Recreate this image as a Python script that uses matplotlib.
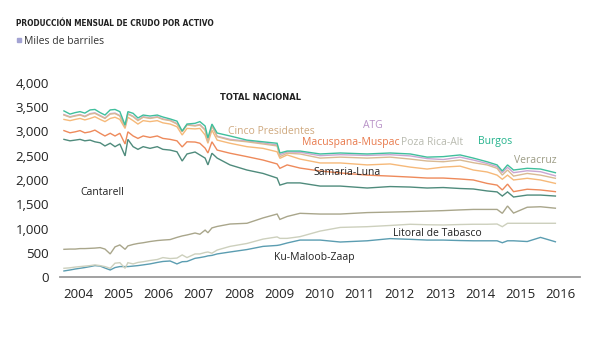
import matplotlib
matplotlib.use("Agg")
import matplotlib.pyplot as plt
from matplotlib.patches import Rectangle
from matplotlib import font_manager

# Decimal-year dates of the sampled months
dates = [2003.65, 2003.80, 2003.93, 2004.05, 2004.17, 2004.30, 2004.42, 2004.55, 2004.67, 2004.80,
         2004.92, 2005.04, 2005.17, 2005.24, 2005.37, 2005.49, 2005.62, 2005.79, 2005.97, 2006.11,
         2006.29, 2006.46, 2006.59, 2006.71, 2006.91, 2007.03, 2007.16, 2007.23, 2007.33, 2007.46,
         2007.78, 2008.20, 2008.60, 2008.95, 2009.02, 2009.20, 2009.52, 2010.02, 2010.52, 2011.19,
         2011.76, 2012.26, 2012.68, 2013.08, 2013.50, 2013.83, 2014.17, 2014.42, 2014.55, 2014.68,
         2014.83, 2015.17, 2015.50, 2015.87]

# Cumulative (stacked) production levels, miles de barriles
ku_maloob_zaap = [130, 150, 170, 185, 200, 220, 240, 230, 190, 150, 200, 220, 220, 220, 230, 240, 255, 275, 305, 325,
                  335, 275, 320, 325, 390, 405, 425, 440, 450, 480, 520, 570, 635, 655, 665, 705, 765, 765, 725, 750,
                  795, 780, 765, 765, 755, 750, 750, 750, 710, 750, 750, 735, 820, 730]
litoral_tabasco = [185, 195, 210, 220, 230, 240, 255, 240, 220, 185, 290, 300, 185, 300, 275, 305, 320, 345, 365, 405,
                   385, 395, 460, 405, 480, 480, 510, 520, 495, 560, 635, 695, 785, 830, 800, 800, 835, 950, 1025, 1040,
                   1065, 1090, 1080, 1075, 1085, 1090, 1090, 1095, 1040, 1110, 1110, 1110, 1110, 1110]
abkatun = [575, 580, 580, 590, 590, 595, 600, 610, 580, 480, 625, 665, 575, 645, 675, 695, 710, 735, 755, 765,
           775, 820, 850, 870, 910, 885, 970, 915, 1015, 1045, 1095, 1110, 1220, 1300, 1190, 1250, 1315, 1300, 1300, 1330,
           1340, 1350, 1360, 1370, 1385, 1395, 1395, 1395, 1315, 1465, 1320, 1440, 1450, 1420]
cantarell = [2835, 2805, 2820, 2835, 2805, 2820, 2785, 2765, 2700, 2755, 2685, 2740, 2495, 2835, 2685, 2630, 2685, 2650, 2685, 2630,
             2615, 2580, 2390, 2535, 2575, 2515, 2450, 2310, 2550, 2450, 2310, 2205, 2135, 2040, 1895, 1940, 1940, 1875, 1875, 1835,
             1865, 1855, 1835, 1845, 1825, 1815, 1775, 1755, 1670, 1755, 1650, 1690, 1690, 1670]
samaria_luna = [3015, 2970, 2990, 3015, 2970, 2990, 3025, 2960, 2905, 2960, 2905, 2960, 2740, 2990, 2905, 2855, 2905, 2875, 2905, 2855,
                2835, 2805, 2680, 2785, 2780, 2755, 2655, 2555, 2785, 2615, 2550, 2480, 2410, 2330, 2240, 2310, 2245, 2185, 2145, 2100,
                2080, 2060, 2040, 2040, 2020, 2000, 1930, 1895, 1795, 1915, 1760, 1810, 1795, 1760]
macuspana = [3245, 3220, 3245, 3265, 3235, 3265, 3300, 3245, 3200, 3265, 3290, 3245, 3060, 3290, 3220, 3150, 3220, 3200, 3220, 3175,
             3150, 3095, 2925, 3060, 3050, 3060, 2925, 2755, 3025, 2820, 2755, 2685, 2650, 2580, 2445, 2515, 2430, 2350, 2350, 2310,
             2330, 2265, 2225, 2265, 2285, 2205, 2165, 2100, 2015, 2100, 2000, 2035, 2000, 1930]
cinco_presidentes = [3335, 3290, 3315, 3335, 3300, 3355, 3370, 3315, 3265, 3355, 3365, 3315, 3095, 3355, 3300, 3220, 3290, 3265, 3290, 3245,
                     3220, 3150, 2990, 3130, 3110, 3130, 3025, 2785, 3110, 2890, 2820, 2785, 2740, 2700, 2480, 2550, 2535, 2450, 2470, 2450,
                     2470, 2430, 2390, 2375, 2410, 2355, 2310, 2240, 2100, 2205, 2080, 2135, 2100, 2035]
atg = [3345, 3300, 3325, 3345, 3310, 3365, 3380, 3325, 3275, 3365, 3375, 3325, 3105, 3365, 3310, 3230, 3300, 3275, 3300, 3255,
       3230, 3160, 3000, 3140, 3120, 3140, 3035, 2795, 3120, 2900, 2835, 2800, 2760, 2720, 2520, 2575, 2570, 2500, 2520, 2505,
       2520, 2495, 2440, 2420, 2470, 2410, 2340, 2275, 2150, 2260, 2150, 2190, 2170, 2085]
burgos_total = [3420, 3355, 3385, 3405, 3375, 3440, 3450, 3385, 3335, 3440, 3450, 3405, 3130, 3405, 3370, 3275, 3335, 3315, 3335, 3295,
                3255, 3210, 3005, 3150, 3165, 3200, 3110, 2865, 3150, 2965, 2905, 2820, 2785, 2755, 2555, 2595, 2595, 2535, 2555, 2535,
                2555, 2535, 2470, 2480, 2515, 2450, 2375, 2310, 2185, 2310, 2205, 2240, 2225, 2150]

year_ticks = [2004, 2005, 2006, 2007, 2008, 2009, 2010, 2011, 2012, 2013, 2014, 2015, 2016]
value_ticks = [0, 500, 1000, 1500, 2000, 2500, 3000, 3500, 4000]

series = [
    (ku_maloob_zaap, "#5b9db1"),
    (litoral_tabasco, "#cdd0bd"),
    (abkatun, "#a9a68b"),
    (cantarell, "#4f8b7c"),
    (samaria_luna, "#ee8a5b"),
    (macuspana, "#f6b979"),
    (atg, "#c9a6d2"),
    (cinco_presidentes, "#d9ba93"),
    (burgos_total, "#3fbf9c"),
]

labels = [
    ("Cinco Presidentes", 2008.8, 3000, "#cfa97f"),
    ("ATG", 2011.34, 3120, "#b892c7"),
    ("Macuspana-Muspac", 2010.79, 2780, "#e8794b"),
    ("Poza Rica-Alt", 2012.81, 2780, "#b9bbb0"),
    ("Burgos", 2014.37, 2800, "#25b38d"),
    ("Veracruz", 2015.37, 2410, "#9d9d86"),
    ("Samaria-Luna", 2010.69, 2160, "#222222"),
    ("Cantarell", 2004.6, 1750, "#222222"),
    ("Litoral de Tabasco", 2012.93, 905, "#222222"),
    ("Ku-Maloob-Zaap", 2009.87, 400, "#222222"),
]

# pick a narrow bold face if one is installed
names = {f.name for f in font_manager.fontManager.ttflist}
if "Liberation Sans Narrow" in names:
    head_family = "Liberation Sans Narrow"
    head_scale = 1.0
else:
    head_family = "DejaVu Sans"
    head_scale = 0.78

fig = plt.figure(figsize=(6.0, 3.46), dpi=100)
ax = fig.add_axes([0.1, 0.1986, 0.867, 0.5624])

for vals, col in series:
    ax.plot(dates, vals, color=col, lw=1.0, solid_joinstyle="miter")

ax.text(2008.53, 3690, "TOTAL NACIONAL", color="#222222", fontsize=8.5 * head_scale,
        fontweight="bold", family=head_family, fontstretch="condensed",
        ha="center", va="center")
for txt, x, y, col in labels:
    ax.text(x, y, txt, color=col, fontsize=7.5, family="Open Sans",
            ha="center", va="center")

ax.set_xlim(2003.552, 2016.487)
ax.set_ylim(0, 4000)
ax.set_xticks(year_ticks)
ax.set_xticklabels([str(y) for y in year_ticks])
ax.set_yticks(value_ticks)
ax.set_yticklabels([f"{v:,}" for v in value_ticks])
for s in ["top", "right", "left"]:
    ax.spines[s].set_visible(False)
ax.spines["bottom"].set_color("#9a9a9a")
ax.spines["bottom"].set_linewidth(1.3)
ax.tick_params(axis="both", length=0, labelsize=9.5, labelcolor="#222222")
ax.tick_params(axis="y", pad=8)
ax.tick_params(axis="x", pad=8)
for lab in ax.get_xticklabels() + ax.get_yticklabels():
    lab.set_family("Open Sans")

fig.text(0.027, 0.931, "PRODUCCIÓN MENSUAL DE CRUDO POR ACTIVO", fontsize=9.5 * head_scale * 0.8,
         fontweight="bold", family=head_family, fontstretch="condensed", color="#222222",
         ha="left", va="center")
fig.patches.append(Rectangle((0.028, 1 - 42 / 346), 4 / 600, 4 / 346,
                             transform=fig.transFigure, color="#a3a3d3", figure=fig))
fig.text(0.040, 1 - 41 / 346, "Miles de barriles", fontsize=7.5, family="Open Sans",
         color="#333333", ha="left", va="center")

fig.savefig("out.png", dpi=100)
